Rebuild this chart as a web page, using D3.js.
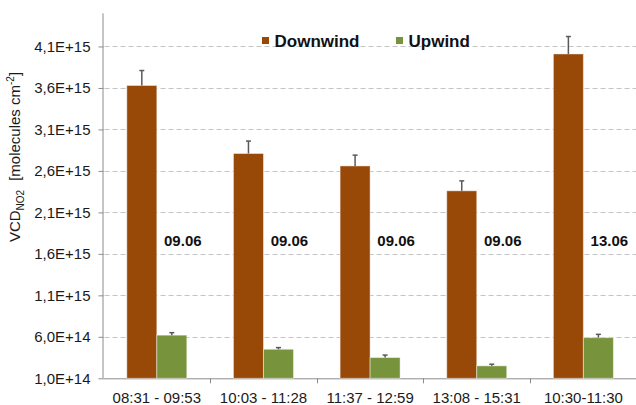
<!DOCTYPE html>
<html>
<head>
<meta charset="utf-8">
<script src="https://cdn.jsdelivr.net/npm/d3@7"></script>
<style>
  body { margin: 0; background: #fff; }
  svg { display: block; font-family: "Liberation Sans", Arial, sans-serif; }
</style>
</head>
<body>
<svg id="chart" width="636" height="405"></svg>
<script>
// chart data
const categories = ['08:31 - 09:53', '10:03 - 11:28', '11:37 - 12:59', '13:08 - 15:31', '10:30-11:30'];
const dayLabels = ['09.06', '09.06', '09.06', '09.06', '13.06'];
const seriesNames = ['Downwind', 'Upwind'];
const downwind = [3.63e15, 2.81e15, 2.66e15, 2.36e15, 4.01e15];
const downwindErr = [0.18e15, 0.15e15, 0.13e15, 0.12e15, 0.21e15];
const upwind = [6.2e14, 4.5e14, 3.5e14, 2.5e14, 5.9e14];
const upwindErr = [0.3e14, 0.2e14, 0.3e14, 0.2e14, 0.4e14];
const yTicks = [1e14, 6e14, 1.1e15, 1.6e15, 2.1e15, 2.6e15, 3.1e15, 3.6e15, 4.1e15];

const colors = ['#984807', '#77933c'];

const svg = d3.select('#chart');
const plotLeft = 103.5, plotRight = 636.7, plotTop = 13.3, plotBottom = 378.3;

const x = d3.scaleBand().domain(categories).range([plotLeft, plotRight]).paddingInner(0).paddingOuter(0);
const y = d3.scaleLinear().domain([1e14, 4.5e15]).range([plotBottom, plotTop]);

function fmt(d) {
  const e = Math.floor(Math.log10(d) + 1e-9);
  const m = d / Math.pow(10, e);
  return m.toFixed(1).replace('.', ',') + 'E+' + e;
}

// gridlines
svg.append('g')
  .selectAll('line')
  .data(yTicks.slice(1))
  .join('line')
  .attr('x1', plotLeft + 1).attr('x2', plotRight)
  .attr('y1', d => Math.round(y(d)) + 0.5).attr('y2', d => Math.round(y(d)) + 0.5)
  .attr('stroke', '#c4c4c4')
  .attr('stroke-width', 1)
  .attr('stroke-dasharray', '5,3');

// y axis
const yAxis = svg.append('g')
  .attr('transform', `translate(${plotLeft},0)`)
  .call(d3.axisLeft(y).tickValues(yTicks).tickFormat(fmt).tickSize(5).tickPadding(8));
yAxis.select('.domain').attr('stroke', '#8c8c8c').attr('d', `M-0.5,${plotTop}V${plotBottom}`);
yAxis.selectAll('.tick line').attr('stroke', '#8c8c8c');
yAxis.selectAll('.tick text').attr('font-size', 15).attr('fill', '#1a1a1a')
  .attr('font-family', '"Liberation Sans", Arial, sans-serif');

// x axis
const xAxis = svg.append('g')
  .attr('transform', `translate(0,${plotBottom})`)
  .call(d3.axisBottom(x).tickSize(0).tickPadding(14));
xAxis.select('.domain').attr('stroke', '#8c8c8c').attr('d', `M${plotLeft},0.5H${plotRight}`);
xAxis.selectAll('.tick text').attr('font-size', 15).attr('fill', '#1a1a1a')
  .attr('font-family', '"Liberation Sans", Arial, sans-serif');
xAxis.append('g')
  .selectAll('line')
  .data(categories.slice(1))
  .join('line')
  .attr('x1', d => Math.round(x(d)) + 0.5).attr('x2', d => Math.round(x(d)) + 0.5)
  .attr('y1', 0).attr('y2', 5)
  .attr('stroke', '#8c8c8c');

// bars
const barW = 30;
const series = [downwind, upwind];
const errs = [downwindErr, upwindErr];
series.forEach((vals, si) => {
  const g = svg.append('g');
  g.selectAll('rect')
    .data(vals)
    .join('rect')
    .attr('x', (d, i) => x(categories[i]) + x.bandwidth() / 2 - barW + si * barW)
    .attr('width', barW)
    .attr('y', d => y(d))
    .attr('height', d => plotBottom - y(d))
    .attr('fill', colors[si])
    .attr('stroke', 'rgba(255,255,255,0.45)')
    .attr('stroke-width', 1);

  // error bars (plus only)
  const eg = svg.append('g').attr('stroke', '#595959').attr('stroke-width', 1.5);
  vals.forEach((d, i) => {
    const cx = x(categories[i]) + x.bandwidth() / 2 - barW / 2 + si * barW;
    const yTop = y(d + errs[si][i]);
    eg.append('line').attr('x1', cx).attr('x2', cx).attr('y1', y(d)).attr('y2', yTop);
    eg.append('line').attr('x1', cx - 2.5).attr('x2', cx + 2.5).attr('y1', yTop).attr('y2', yTop);
  });
});

// day labels
svg.append('g')
  .selectAll('text')
  .data(dayLabels)
  .join('text')
  .attr('x', (d, i) => x(categories[i]) + x.bandwidth() / 2 + 26)
  .attr('y', 246)
  .attr('text-anchor', 'middle')
  .attr('font-size', 15)
  .attr('font-weight', 'bold')
  .attr('fill', '#111')
  .text(d => d);

// legend
const legendX = [262, 396];
seriesNames.forEach((name, i) => {
  svg.append('rect')
    .attr('x', legendX[i]).attr('y', 37)
    .attr('width', 7).attr('height', 7)
    .attr('fill', colors[i]);
  svg.append('text')
    .attr('x', legendX[i] + 12.5).attr('y', 46.5)
    .attr('font-size', 17)
    .attr('font-weight', 'bold')
    .attr('fill', '#111')
    .text(name);
});

// y title
const title = svg.append('text')
  .attr('transform', 'translate(20,157) rotate(-90)')
  .attr('text-anchor', 'middle')
  .attr('font-size', 15)
  .attr('fill', '#1a1a1a');
title.append('tspan').text('VCD');
title.append('tspan').attr('font-size', 10).attr('dy', 4).text('NO2');
title.append('tspan').attr('dy', -4).attr('dx', 9).text('[molecules cm');
title.append('tspan').attr('font-size', 10).attr('dy', -6).text('-2');
title.append('tspan').attr('dy', 6).text(']');
</script>
</body>
</html>
